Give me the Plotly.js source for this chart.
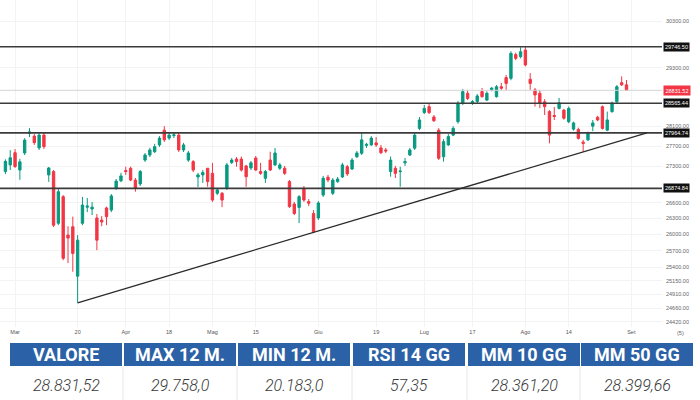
<!DOCTYPE html>
<html><head><meta charset="utf-8">
<script src="https://cdn.plot.ly/plotly-3.0.1.min.js"></script>
<style>html,body{margin:0;padding:0;background:#fff;}#chart{width:700px;height:400px;}</style>
</head><body><div id="chart"></div>
<script>
// ---- data (trading-day index: 0 = 1 Mar 2023) ----
const firstDay = -2;
const open  = [27200,27330,27570,27230,27565,27955,27900,27665,27920,27135,27200,26210,26715,25990,26145,25235,26210,26515,26480,26310,26270,26500,26460,26875,27020,27220,27265,27035,26960,27425,27525,27590,27725,28020,27860,27910,27920,27625,27425,27395,27095,27135,27265,27165,26780,26780,26875,27375,27445,27445,27310,27270,27465,27200,27070,27425,27330,27265,27265,27005,26575,26510,26875,26620,26395,26310,26745,27090,26780,27005,27095,27295,27250,27490,27560,27715,27725,27765,27665,27625,27200,27265,27200,27370,27525,27660,28055,28375,28495,28285,28020,27490,27725,27920,28190,28565,28770,28565,28600,28805,28630,28840,28700,28905,29095,29080,29580,29535,29675,29060,28840,28770,28595,28395,28315,28460,28425,28190,28040,28035,27780,27825,28100,28280,28495,28020,28395,28595,28990,28945];
const high  = [27440,27620,27640,27450,27860,28060,27940,27960,27980,27290,27230,26880,26745,26155,26335,25990,26710,26690,26615,26385,26345,26525,26765,27055,27175,27295,27295,27075,27230,27565,27665,27745,27900,28100,27960,27980,27960,27765,27605,27425,27175,27230,27270,27370,26880,26805,27370,27465,27485,27495,27330,27405,27505,27370,27230,27590,27665,27370,27310,27035,26615,26745,26920,26670,26460,26630,27115,27135,27075,27095,27370,27330,27465,27605,27960,27765,27900,27880,27725,27665,27495,27310,27295,27465,27665,27960,28285,28530,28570,28325,28060,27840,27940,28100,28610,28860,28840,28630,28755,28880,28810,28900,28940,28985,29150,29650,29620,29735,29746.5,29190,28880,28840,28650,28425,28490,28675,28450,28500,28190,28070,27825,27990,28225,28310,28520,28395,28600,28940,29120,29045];
const low   = [27150,27230,27270,27040,27525,27880,27725,27625,27645,27000,26140,26175,25525,25475,25315,24758,26175,26420,26365,25710,26155,26175,26420,26845,26995,27135,27015,26810,26920,27390,27485,27565,27685,27785,27825,27860,27585,27585,27390,27190,26900,26980,26905,26615,26745,26515,26845,27350,27295,27200,26905,27230,27210,27135,26980,27210,27310,27230,27135,26500,26365,26215,26615,26535,26025,26270,26710,26995,26745,26980,27075,27115,27230,27465,27525,27665,27705,27685,27545,27565,27100,27075,26905,27310,27505,27625,28020,28345,28345,28185,27425,27395,27705,27900,28150,28530,28630,28530,28565,28680,28610,28810,28680,28840,28840,29040,29460,29500,29330,28840,28495,28465,28325,27755,28225,28440,28230,28160,28010,27830,27590,27800,28000,28200,28030,28000,28370,28570,28920,28820];
const close = [27400,27470,27300,27390,27820,27985,27770,27920,27690,27270,26175,26810,25560,25935,25650,25895,26555,26535,26515,25895,26235,26335,26730,27015,27115,27200,27035,26875,27200,27525,27625,27690,27860,27825,27920,27925,27625,27725,27565,27230,27135,27180,27005,26650,26845,26650,27330,27425,27395,27230,27100,27370,27230,27165,27200,27230,27565,27330,27165,26525,26395,26715,26650,26590,26050,26595,27070,27035,27035,27055,27330,27155,27425,27565,27825,27735,27860,27725,27570,27605,27425,27165,27210,27395,27625,27920,28225,28460,28375,28210,27460,27790,27890,28055,28565,28805,28665,28600,28715,28700,28770,28875,28905,28875,28975,29605,29500,29640,29360,28975,28735,28565,28495,27920,28295,28575,28260,28460,28165,27855,27755,27955,28165,28225,28055,28225,28565,28905,28945,28831.52];

const levels = [29746.50, 28565.44, 27964.74, 26874.84];
const lastPrice = 28831.52;
const trendX = [13, 131.25];
const trendY = [24758, 27964.74];

const yTickVals = [30300, 29300, 28100, 27700, 27300, 26600, 26300, 26000, 25700, 25400, 25150, 24910, 24660, 24420];
const xTickIdx  = [0, 13, 23, 32, 41, 50, 63, 75, 85, 95, 106, 115, 128];
const xTickText = ['Mar','20','Apr','18','Mag','15','Giu','19','Lug','17','Ago','14','Set'];

const headers = ['VALORE','MAX 12 M.','MIN 12 M.','RSI 14 GG','MM 10 GG','MM 50 GG'];
const values  = ['28.831,52','29.758,0','20.183,0','57,35','28.361,20','28.399,66'];

// ---- layout helpers ----
const W = 700, H = 400, ML = 0, MR = 38, MT = 0, MB = 73;
const PW = W - ML - MR, PH = H - MT - MB;
const px = p => (p - ML) / PW;           // pixel x -> paper
const py = p => (MT + PH - p) / PH;      // pixel y -> paper
const XR = [-3.125, 134.375];

const GREEN = '#089981', RED = '#f23645';
const x = open.map((_, i) => firstDay + i);

const traces = [
  {type:'scatter', mode:'lines', x:XR, y:[lastPrice, lastPrice],
   line:{color:'#d4d4d4', width:1}, hoverinfo:'skip', showlegend:false},
  {type:'candlestick', x:x, open:open, high:high, low:low, close:close,
   increasing:{line:{color:GREEN, width:1}, fillcolor:GREEN},
   decreasing:{line:{color:RED, width:1}, fillcolor:RED},
   whiskerwidth:0, hoverinfo:'skip', showlegend:false}
];
levels.forEach(v => traces.push({type:'scatter', mode:'lines', x:XR, y:[v, v],
  line:{color:'#3b3b3b', width:1.6}, hoverinfo:'skip', showlegend:false}));
traces.push({type:'scatter', mode:'lines', x:trendX, y:trendY,
  line:{color:'#2b2b2b', width:1.3}, hoverinfo:'skip', showlegend:false});

const shapes = [];
const annotations = [];

levels.forEach(v => {
  annotations.push({xref:'paper', yref:'y', x:1, y:Math.log10(v), xanchor:'left', yanchor:'middle',
    xshift:1, text:v.toFixed(2), showarrow:false, bgcolor:'#111111', borderpad:1,
    font:{family:'Liberation Sans, Arial, sans-serif', size:5.5, color:'#ffffff'}});
});
annotations.push({xref:'paper', yref:'y', x:1, y:Math.log10(lastPrice), xanchor:'left', yanchor:'middle',
  xshift:1, text:lastPrice.toFixed(2), showarrow:false, bgcolor:RED, borderpad:1.5,
  font:{family:'Liberation Sans, Arial, sans-serif', size:5.5, color:'#ffffff'}});
annotations.push({xref:'paper', yref:'paper', x:px(680), y:py(333), xanchor:'center', yanchor:'middle',
  text:'(5)', showarrow:false, font:{family:'Liberation Sans, Arial, sans-serif', size:5.5, color:'#666'}});

// table
const cellX = [10, 124, 238, 353, 468, 581];
const cellW = 112;
headers.forEach((h, i) => {
  const x0 = cellX[i], x1 = cellX[i] + cellW;
  shapes.push({type:'rect', xref:'paper', yref:'paper', x0:px(x0), x1:px(x1), y0:py(366), y1:py(343),
    fillcolor:'#2b61a7', line:{width:0}, layer:'above'});
  annotations.push({xref:'paper', yref:'paper', x:px((x0 + x1) / 2), y:py(354.5), xanchor:'center', yanchor:'middle',
    text:h, showarrow:false, font:{family:'Roboto, sans-serif', size:18, color:'#ffffff', weight:700}});
  annotations.push({xref:'paper', yref:'paper', x:px((x0 + x1) / 2), y:py(385), xanchor:'center', yanchor:'middle',
    text:values[i], showarrow:false, font:{family:'Roboto, sans-serif', size:16, color:'#3a3a3a', weight:300, style:'italic'}});
  if (i > 0) {
    shapes.push({type:'line', xref:'paper', yref:'paper', x0:px(x0 - 1), x1:px(x0 - 1), y0:py(400), y1:py(366),
      line:{color:'#e6e6e6', width:1}, layer:'above'});
  }
});

const layout = {
  width:W, height:H, margin:{l:ML, r:MR, t:MT, b:MB},
  paper_bgcolor:'#ffffff', plot_bgcolor:'#ffffff', showlegend:false, hovermode:false,
  font:{family:'Liberation Sans, Arial, sans-serif'},
  xaxis:{type:'linear', range:XR, tickvals:xTickIdx, ticktext:xTickText,
    showgrid:true, gridcolor:'#f3f3f3', zeroline:false, showline:false, ticks:'',
    tickfont:{size:5.5, color:'#555'}, rangeslider:{visible:false}, fixedrange:true},
  yaxis:{type:'log', side:'right', range:[4.38618, 4.48798], tickvals:yTickVals,
    ticktext:yTickVals.map(v => v.toFixed(2)), showgrid:true, gridcolor:'#f3f3f3',
    zeroline:false, showline:false, ticks:'', ticklabelstandoff:3,
    tickfont:{size:5.5, color:'#666'}, fixedrange:true},
  shapes:shapes, annotations:annotations
};

Plotly.newPlot('chart', traces, layout, {displayModeBar:false, staticPlot:true});
</script></body></html>
